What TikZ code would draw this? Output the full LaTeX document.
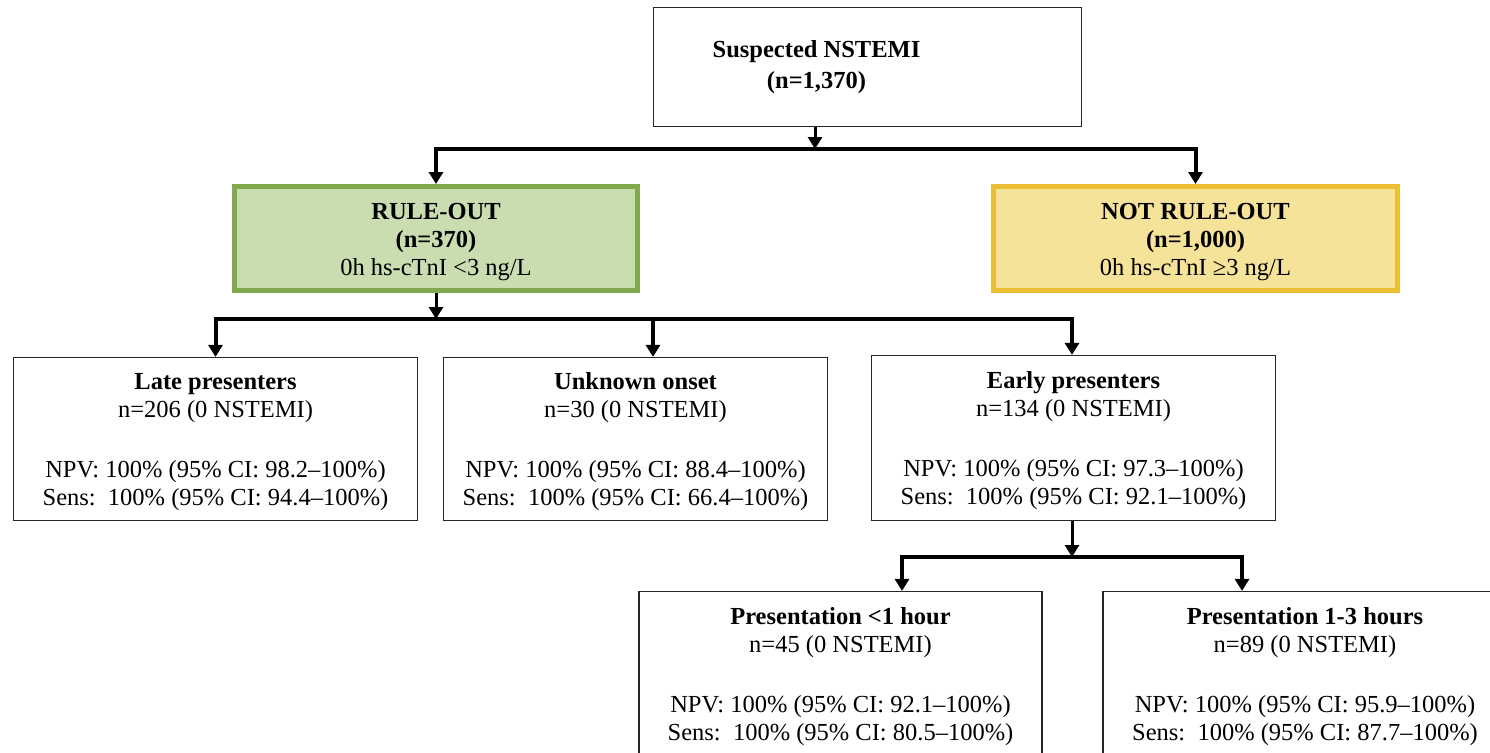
\documentclass[tikz,border=0pt]{standalone}
\usepackage{fontspec}
\setmainfont{Liberation Serif}
\usetikzlibrary{arrows.meta}
\definecolor{gfill}{HTML}{C9DDB1}
\definecolor{gline}{HTML}{82A84E}
\definecolor{yfill}{HTML}{F6E39A}
\definecolor{yline}{HTML}{EBBE33}
\newcommand{\tstrut}[1]{\rule{0pt}{#1}}
\begin{document}
\begin{tikzpicture}[x=1pt,y=-1pt,
  txt/.style={font=\fontsize{24.5}{28}\selectfont, align=center, inner sep=0pt},
  plainbox/.style={txt, draw=black!85, line width=1.2pt, outer sep=0.6pt},
  colbox/.style={txt, line width=5pt, outer sep=2.5pt},
  conn/.style={line width=4pt, line join=miter, {Triangle[length=12pt,width=14pt]}-{Triangle[length=12pt,width=14pt]}},
  single/.style={line width=4pt, -{Triangle[length=12pt,width=14pt]}}
]
\useasboundingbox (0,0) rectangle (1490,752);

\node[plainbox, minimum width=428pt, minimum height=119pt, font=\fontsize{24.5}{31.5}\selectfont\bfseries] (top) at (867.5,67) {Suspected NSTEMI\hspace*{102pt}\\(n=1,370)\hspace*{102pt}};

\node[colbox, draw=gline, fill=gfill, minimum width=403pt, minimum height=104pt] (ro) at (436,238.5) {\tstrut{24pt}\textbf{RULE-OUT}\\\textbf{(n=370)}\\0h hs-cTnI <3 ng/L};
\node[colbox, draw=yline, fill=yfill, minimum width=404pt, minimum height=104pt] (nro) at (1195.5,238.5) {\tstrut{24pt}\textbf{NOT RULE-OUT}\\\textbf{(n=1,000)}\\0h hs-cTnI ≥3 ng/L};

\node[plainbox, minimum width=404pt, minimum height=163pt] (late) at (215.5,439) {\tstrut{23pt}\textbf{Late presenters}\\n=206 (0 NSTEMI)\\[32pt]NPV: 100\% (95\% CI: 98.2–100\%)\\Sens:\ \ 100\% (95\% CI: 94.4–100\%)};
\node[plainbox, minimum width=384pt, minimum height=163pt] (unk) at (635.5,439) {\tstrut{23pt}\textbf{Unknown onset}\\n=30 (0 NSTEMI)\\[32pt]NPV: 100\% (95\% CI: 88.4–100\%)\\Sens:\ \ 100\% (95\% CI: 66.4–100\%)};
\node[plainbox, minimum width=404pt, minimum height=165pt] (early) at (1073.5,438) {\tstrut{23pt}\textbf{Early presenters}\\n=134 (0 NSTEMI)\\[32pt]NPV: 100\% (95\% CI: 97.3–100\%)\\Sens:\ \ 100\% (95\% CI: 92.1–100\%)};

\node[plainbox, minimum width=403pt, minimum height=165pt] (p1) at (840.5,674) {\tstrut{23pt}\textbf{Presentation <1 hour}\\n=45 (0 NSTEMI)\\[32pt]NPV: 100\% (95\% CI: 92.1–100\%)\\Sens:\ \ 100\% (95\% CI: 80.5–100\%)};
\node[plainbox, minimum width=404pt, minimum height=165pt] (p2) at (1305,674) {\tstrut{23pt}\textbf{Presentation 1-3 hours}\\n=89 (0 NSTEMI)\\[32pt]NPV: 100\% (95\% CI: 95.9–100\%)\\Sens:\ \ 100\% (95\% CI: 87.7–100\%)};

% level 1
\coordinate (j1) at (815,149);
\draw[single, line width=3pt] (top.south -| j1) -- (j1);
\draw[conn] (ro.north) |- (j1) -| (nro.north);

% level 2
\coordinate (j2) at (436,319);
\draw[single, line width=3pt] (ro.south) -- (j2);
\draw[conn] (late.north) |- (j2) -| ([xshift=-1.5pt]early.north);
\draw[single] ([xshift=17.5pt]unk.north |- j2) -- ([xshift=17.5pt]unk.north);

% level 3
\coordinate (j3) at (1072,557);
\draw[single, line width=3pt] ([xshift=-1.5pt]early.south) -- (j3);
\draw[conn] ([xshift=61.5pt]p1.north) |- (j3) -| ([xshift=-63pt]p2.north);
\end{tikzpicture}
\end{document}
